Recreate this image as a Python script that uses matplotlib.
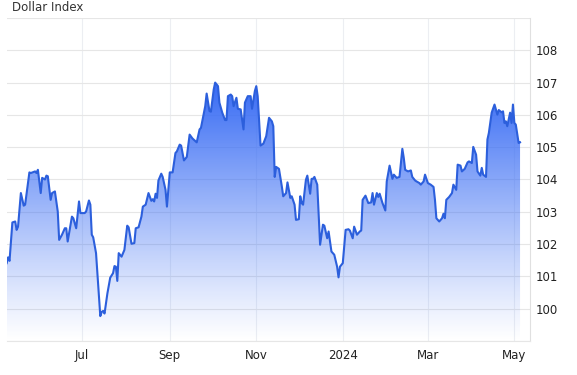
import matplotlib
matplotlib.use("Agg")
import matplotlib.pyplot as plt
import matplotlib.dates as mdates
import numpy as np
import pandas as pd

# Dollar Index (May 2023 - May 2024)
dates = [
    "2023-05-09", "2023-05-10", "2023-05-11", "2023-05-13", "2023-05-15", "2023-05-16", "2023-05-17",
    "2023-05-19", "2023-05-21", "2023-05-22", "2023-05-25", "2023-05-26", "2023-05-29", "2023-05-30",
    "2023-05-31", "2023-06-02", "2023-06-03", "2023-06-05", "2023-06-06", "2023-06-07", "2023-06-09",
    "2023-06-10", "2023-06-12", "2023-06-14", "2023-06-15", "2023-06-17", "2023-06-19", "2023-06-20",
    "2023-06-21", "2023-06-24", "2023-06-25", "2023-06-27", "2023-06-29", "2023-06-30",
    "2023-07-03", "2023-07-04", "2023-07-06", "2023-07-07", "2023-07-08", "2023-07-09", "2023-07-11",
    "2023-07-14", "2023-07-15", "2023-07-16", "2023-07-17", "2023-07-19", "2023-07-21", "2023-07-23",
    "2023-07-24", "2023-07-25", "2023-07-26", "2023-07-27", "2023-07-29", "2023-07-31",
    "2023-08-02", "2023-08-03", "2023-08-05", "2023-08-07", "2023-08-08", "2023-08-10", "2023-08-12",
    "2023-08-13", "2023-08-15", "2023-08-17", "2023-08-19", "2023-08-20", "2023-08-21", "2023-08-22",
    "2023-08-23", "2023-08-24", "2023-08-26", "2023-08-27", "2023-08-29", "2023-08-30",
    "2023-09-01", "2023-09-03", "2023-09-05", "2023-09-06", "2023-09-08", "2023-09-09", "2023-09-11",
    "2023-09-13", "2023-09-15", "2023-09-17", "2023-09-20", "2023-09-22", "2023-09-23", "2023-09-26",
    "2023-09-27", "2023-09-29", "2023-09-30",
    "2023-10-02", "2023-10-03", "2023-10-05", "2023-10-06", "2023-10-08", "2023-10-10", "2023-10-11",
    "2023-10-12", "2023-10-14", "2023-10-15", "2023-10-16", "2023-10-18", "2023-10-19", "2023-10-21",
    "2023-10-23", "2023-10-24", "2023-10-26", "2023-10-28", "2023-10-29", "2023-10-31",
    "2023-11-01", "2023-11-02", "2023-11-04", "2023-11-06", "2023-11-08", "2023-11-10", "2023-11-12",
    "2023-11-13", "2023-11-14", "2023-11-15", "2023-11-17", "2023-11-19", "2023-11-20", "2023-11-22",
    "2023-11-23", "2023-11-25", "2023-11-26", "2023-11-28", "2023-11-29",
    "2023-12-01", "2023-12-02", "2023-12-03", "2023-12-04", "2023-12-06", "2023-12-07", "2023-12-09",
    "2023-12-10", "2023-12-11", "2023-12-12", "2023-12-14", "2023-12-16", "2023-12-18", "2023-12-19",
    "2023-12-21", "2023-12-22", "2023-12-24", "2023-12-26", "2023-12-28", "2023-12-29", "2023-12-30",
    "2024-01-01", "2024-01-03", "2024-01-05", "2024-01-06", "2024-01-08", "2024-01-09", "2024-01-11",
    "2024-01-13", "2024-01-14", "2024-01-15", "2024-01-17", "2024-01-19", "2024-01-21", "2024-01-22",
    "2024-01-23", "2024-01-25", "2024-01-26", "2024-01-27", "2024-01-29", "2024-01-31",
    "2024-02-01", "2024-02-03", "2024-02-05", "2024-02-06", "2024-02-08", "2024-02-10", "2024-02-12",
    "2024-02-13", "2024-02-14", "2024-02-16", "2024-02-18", "2024-02-19", "2024-02-21", "2024-02-22",
    "2024-02-24", "2024-02-25", "2024-02-27", "2024-02-28",
    "2024-03-01", "2024-03-03", "2024-03-05", "2024-03-06", "2024-03-07", "2024-03-09", "2024-03-11",
    "2024-03-12", "2024-03-13", "2024-03-14", "2024-03-16", "2024-03-18", "2024-03-19", "2024-03-21",
    "2024-03-22", "2024-03-24", "2024-03-25", "2024-03-27", "2024-03-29", "2024-03-30",
    "2024-04-01", "2024-04-02", "2024-04-04", "2024-04-05", "2024-04-07", "2024-04-08", "2024-04-09",
    "2024-04-11", "2024-04-12", "2024-04-13", "2024-04-15", "2024-04-17", "2024-04-19", "2024-04-20",
    "2024-04-22", "2024-04-23", "2024-04-24", "2024-04-25", "2024-04-26", "2024-04-28", "2024-04-29",
    "2024-04-30", "2024-05-01", "2024-05-02", "2024-05-04", "2024-05-05",
]
dxy = [
    101.41, 101.59, 101.48, 102.67, 102.70, 102.44, 102.54,
    103.58, 103.19, 103.22, 104.22, 104.20, 104.25, 104.20,
    104.30, 103.58, 104.05, 104.00, 104.12, 104.10, 103.37,
    103.58, 103.63, 103.01, 102.13, 102.29, 102.49, 102.49,
    102.08, 102.85, 102.80, 102.49, 103.32, 102.96,
    102.96, 103.01, 103.35, 103.22, 102.29, 102.21, 101.72,
    99.77, 99.90, 99.93, 99.85, 100.47, 100.96, 101.10,
    101.32, 101.30, 100.86, 101.72, 101.61, 101.82,
    102.57, 102.52, 102.01, 102.03, 102.49, 102.52, 102.85,
    103.16, 103.22, 103.58, 103.34, 103.39, 103.32, 103.56,
    103.43, 103.97, 104.18, 104.08, 103.68, 103.16,
    104.22, 104.22, 104.82, 104.87, 105.08, 105.05, 104.59,
    104.70, 105.39, 105.27, 105.15, 105.55, 105.60, 106.27,
    106.66, 106.12, 106.10,
    106.79, 107.00, 106.89, 106.38, 106.07, 105.84, 105.84,
    106.58, 106.63, 106.58, 106.27, 106.53, 106.19, 106.17,
    105.55, 106.38, 106.58, 106.58, 106.19, 106.74,
    106.89, 106.58, 105.05, 105.11, 105.34, 105.91, 105.80,
    105.65, 104.08, 104.39, 104.33, 103.79, 103.48, 103.58,
    103.91, 103.43, 103.48, 103.22, 102.75,
    102.77, 103.48, 103.27, 103.22, 103.99, 104.12, 103.56,
    104.02, 104.02, 104.08, 103.84, 101.98, 102.60, 102.57,
    102.18, 102.39, 101.77, 101.67, 101.30, 100.97, 101.30,
    101.41, 102.44, 102.46, 102.42, 102.18, 102.54, 102.29,
    102.39, 102.42, 103.37, 103.50, 103.27, 103.29, 103.58,
    103.22, 103.58, 103.46, 103.56, 103.27, 103.04,
    103.94, 104.43, 104.02, 104.15, 104.05, 104.08, 104.95,
    104.67, 104.30, 104.25, 104.28, 104.08, 103.97, 103.94,
    103.89, 103.84, 103.94, 104.15,
    103.89, 103.84, 103.77, 103.37, 102.80, 102.70, 102.80,
    102.94, 102.80, 103.37, 103.46, 103.58, 103.84, 103.68,
    104.46, 104.43, 104.25, 104.33, 104.53, 104.56,
    104.51, 105.01, 104.77, 104.25, 104.12, 104.36, 104.15,
    104.08, 105.24, 105.44, 106.07, 106.32, 106.01, 106.15,
    106.08, 106.11, 105.75, 105.80, 105.65, 106.07, 105.75,
    106.32, 105.75, 105.70, 105.13, 105.15,
]
month_ticks = ["2023-07-01", "2023-09-01", "2023-11-01", "2024-01-01", "2024-03-01", "2024-05-01"]
month_labels = ["Jul", "Sep", "Nov", "2024", "Mar", "May"]
y_ticks = [100, 101, 102, 103, 104, 105, 106, 107, 108]

x = pd.to_datetime(dates)
y = np.array(dxy)
ymin, ymax = 99, 109

fig = plt.figure(figsize=(5.77, 3.75), dpi=100)
ax = fig.add_axes([0.0116, 0.0907, 0.9069, 0.8613])

# gradient fill under the line
poly = ax.fill_between(x, y, ymin, color="none", lw=0)
xn = mdates.date2num(x)
grad = np.linspace(0, 1, 256)
rgba = np.zeros((256, 1, 4))
rgba[:, 0, 0] = 0.23
rgba[:, 0, 1] = 0.43
rgba[:, 0, 2] = 0.96
rgba[:, 0, 3] = np.clip(grad ** 1.1 * 1.05, 0, 1)
img = ax.imshow(rgba, aspect="auto", origin="lower",
                extent=[xn[0], xn[-1], ymin, 107.2], zorder=2)
img.set_clip_path(poly.get_paths()[0], transform=ax.transData)

ax.plot(x, y, color="#2c5fdc", lw=1.5, zorder=3)

ax.set_xlim(pd.Timestamp("2023-05-09"), pd.Timestamp("2024-05-12"))
ax.set_ylim(ymin, ymax)

ax.set_xticks(pd.to_datetime(month_ticks))
ax.set_xticklabels(month_labels)
ax.yaxis.tick_right()
ax.set_yticks(y_ticks)
ax.set_yticks(range(99, 110), minor=True)
ax.tick_params(axis="both", which="both", length=0, labelsize=8.5, colors="#222222", pad=4)
ax.tick_params(axis="x", pad=6)
ax.grid(True, which="both", axis="y", color="#e6e6e6", lw=0.8, zorder=0)
ax.grid(True, which="major", axis="x", color="#eceef2", lw=0.8, zorder=0)
ax.set_axisbelow(True)

for s in ["top", "left"]:
    ax.spines[s].set_visible(False)
ax.spines["right"].set_color("#e0e0e0")
ax.spines["bottom"].set_color("#e6e6e6")
ax.spines["right"].set_linewidth(0.8)
ax.spines["bottom"].set_linewidth(0.8)

fig.text(12 / 577, 1 - 1 / 375, "Dollar Index", fontsize=8.5, color="#333333", va="top", ha="left")

fig.savefig("out.png", dpi=100)
